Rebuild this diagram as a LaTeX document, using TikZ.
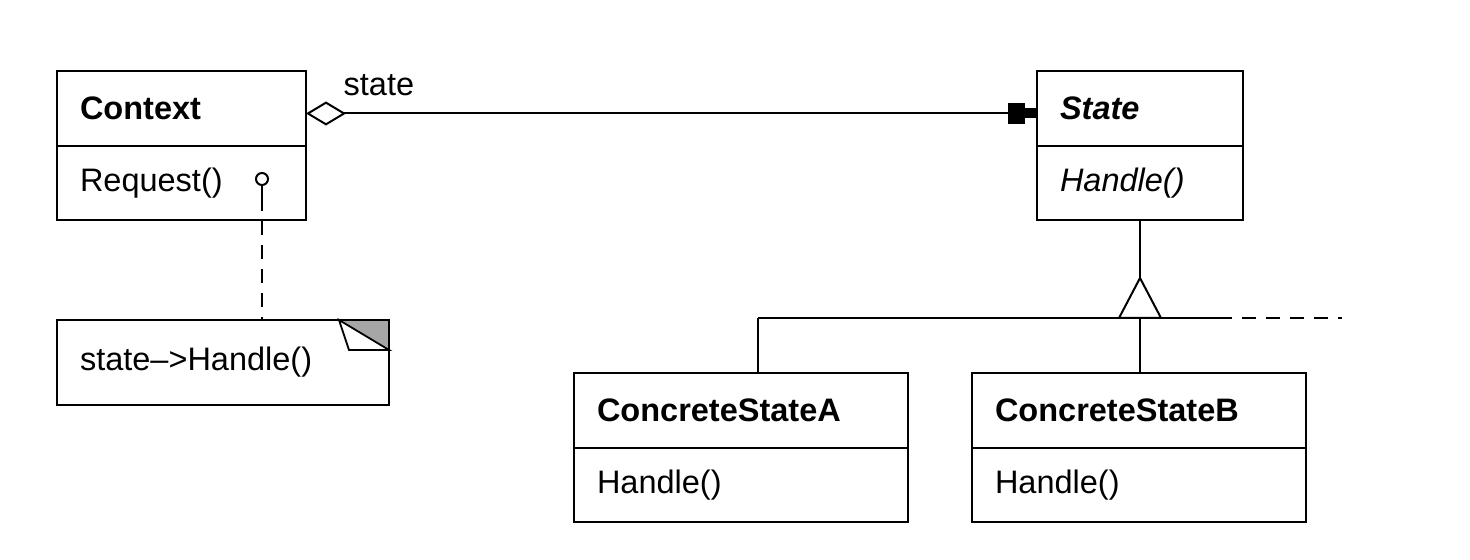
\documentclass[tikz,border=0pt]{standalone}
\usepackage{fontspec}
\setmainfont{Liberation Sans}
\usetikzlibrary{arrows.meta,positioning,backgrounds}
\newcommand{\umlfont}{\fontsize{16.25}{19.5}\selectfont}

\begin{document}
\begin{tikzpicture}[
    x=0.5pt, y=-0.5pt, line width=1pt,
    every node/.style={font=\umlfont},
    cls/.style={draw, anchor=north west, outer sep=0pt, inner xsep=11.5pt, inner ysep=0pt, align=left},
    head/.style={cls, minimum height=37.5pt},
    ops/.style={cls, minimum height=37pt},
    dashline/.style={dash pattern=on 7pt off 5pt}
    ]
    \useasboundingbox (0,0) rectangle (1470,560);

    \node[head, text width=101.5pt] (ctx) at (57,71) {\textbf{Context}};
    \node[ops, text width=101.5pt, below=0pt of ctx] (ctxops) {Request()};

    \node[head, text width=80pt] (st) at (1037,71) {\textbf{\textit{State}}};
    \node[ops, text width=80pt, below=0pt of st] (stops) {\textit{Handle()}};

    \foreach \l/\x in {A/574,B/972}{
      \node[head, text width=144pt] (cs\l) at (\x,373) {\textbf{ConcreteState\l}};
      \node[ops, text width=144pt, below=0pt of cs\l] (cs\l ops) {Handle()};
    }

    \node[cls, minimum height=42.5pt, text width=143pt] (note) at (57,320) {state-->Handle()};
    \begin{scope}[on background layer]
      \fill[black!35] (note.north east) -- ++(-50,0) -- ++(50,30) -- cycle;
      \draw[fill=white, line width=0.9pt] ([xshift=-25pt]note.north east) -- ++(10,30) -- ++(40,0) -- cycle;
    \end{scope}

    \node[draw, circle, inner sep=0pt, minimum size=6pt] (pin) at (262,179) {};
    \coordinate (pinend) at (262,197);
    \draw (pin) -- (pinend);
    \draw[dashline] (pinend) -- (pinend |- note.north);

    \node[anchor=base west] (role) at (336,96) {state};
    \draw[{Diamond[open,length=20pt,width=12pt]}-{Rectangle[length=8.5pt,width=10.5pt]Rectangle[length=6pt,width=5pt]}]
      ([yshift=-2.5pt]ctx.east) -- ([yshift=-2.5pt]st.west);

    \coordinate (apex) at (1140,278);
    \coordinate (bus) at (1140,318);
    \coordinate (busA) at (758,318);
    \coordinate (busend) at (1232,318);
    \coordinate (busgap) at (1242,318);
    \coordinate (more) at (1342,318);
    \draw (stops.south) -- (apex);
    \draw[fill=white] (apex) -- ++(-21,40) -- ++(42,0) -- cycle;
    \draw (busA) -- (busend);
    \draw[dashline] (busgap) -- (more);
    \draw (busA) -- (busA |- csA.north);
    \draw (bus) -- (bus |- csB.north);

\end{tikzpicture}
\end{document}
